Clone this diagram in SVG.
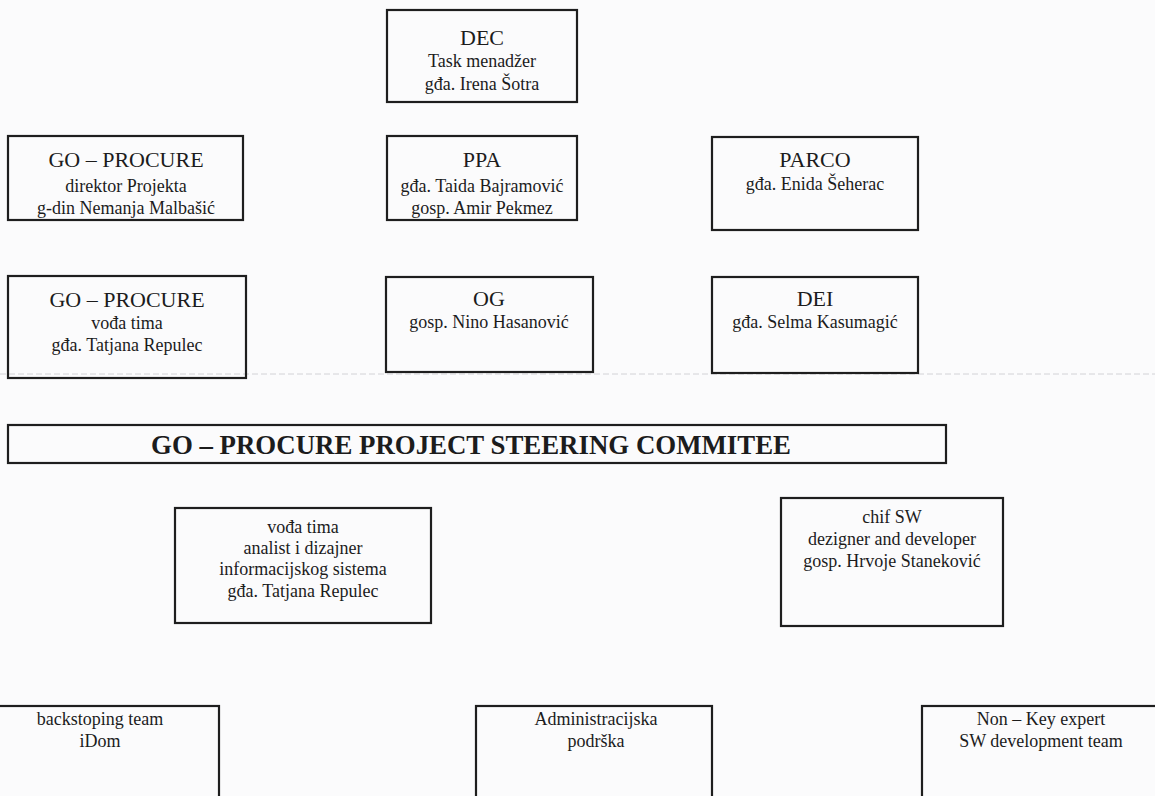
<svg xmlns="http://www.w3.org/2000/svg" width="1155" height="796" viewBox="0 0 1155 796">
<style>
.box{fill:none;stroke:#1e1e1e;stroke-width:2.2}
text{font-family:"Liberation Serif","Times New Roman",serif;fill:#1c1c1c;text-anchor:middle}
.h{font-size:22px}
.s{font-size:18px}
.t{font-size:27px;font-weight:bold}
</style>
<rect x="0" y="0" width="1155" height="796" fill="#fbfbfc"/>
<line x1="0" y1="374" x2="1155" y2="374" stroke="#d2d2d6" stroke-width="1" stroke-dasharray="6 3"/>
<g id="connectors"></g>
<g id="dec">
<rect class="box" x="387" y="10" width="190" height="92"/>
<text class="h" x="482" y="45">DEC</text>
<text class="s" x="482" y="67">Task menadžer</text>
<text class="s" x="482" y="90">gđa. Irena Šotra</text>
</g>
<g id="goprocure-director">
<rect class="box" x="8" y="136" width="235" height="84"/>
<text class="h" x="126" y="167">GO – PROCURE</text>
<text class="s" x="126" y="192">direktor Projekta</text>
<text class="s" x="126" y="214">g-din Nemanja Malbašić</text>
</g>
<g id="ppa">
<rect class="box" x="387" y="136" width="190" height="84"/>
<text class="h" x="482" y="167">PPA</text>
<text class="s" x="482" y="192">gđa. Taida Bajramović</text>
<text class="s" x="482" y="214">gosp. Amir Pekmez</text>
</g>
<g id="parco">
<rect class="box" x="712" y="137" width="206" height="93"/>
<text class="h" x="815" y="167">PARCO</text>
<text class="s" x="815" y="190">gđa. Enida Šeherac</text>
</g>
<g id="goprocure-leader">
<rect class="box" x="8" y="276" width="238" height="102"/>
<text class="h" x="127" y="307">GO – PROCURE</text>
<text class="s" x="127" y="329">vođa tima</text>
<text class="s" x="127" y="351">gđa. Tatjana Repulec</text>
</g>
<g id="og">
<rect class="box" x="386" y="277" width="207" height="95"/>
<text class="h" x="489" y="306">OG</text>
<text class="s" x="489" y="328">gosp. Nino Hasanović</text>
</g>
<g id="dei">
<rect class="box" x="712" y="277" width="206" height="96"/>
<text class="h" x="815" y="306">DEI</text>
<text class="s" x="815" y="328">gđa. Selma Kasumagić</text>
</g>
<g id="steering">
<rect class="box" x="8" y="425" width="938" height="38"/>
<text class="t" x="471" y="454" textLength="640" lengthAdjust="spacingAndGlyphs">GO – PROCURE PROJECT STEERING COMMITEE</text>
</g>
<g id="team-leader">
<rect class="box" x="175" y="508" width="256" height="115"/>
<text class="s" x="303" y="533">vođa tima</text>
<text class="s" x="303" y="554">analist i dizajner</text>
<text class="s" x="303" y="575">informacijskog sistema</text>
<text class="s" x="303" y="597">gđa. Tatjana Repulec</text>
</g>
<g id="chief-sw">
<rect class="box" x="781" y="498" width="222" height="128"/>
<text class="s" x="892" y="523">chif SW</text>
<text class="s" x="892" y="545">dezigner and developer</text>
<text class="s" x="892" y="567">gosp. Hrvoje Staneković</text>
</g>
<g id="backstoping">
<rect class="box" x="-19" y="706" width="238" height="100"/>
<text class="s" x="100" y="725">backstoping team</text>
<text class="s" x="100" y="747">iDom</text>
</g>
<g id="admin">
<rect class="box" x="476" y="706" width="236" height="100"/>
<text class="s" x="596" y="725">Administracijska</text>
<text class="s" x="596" y="747">podrška</text>
</g>
<g id="non-key">
<rect class="box" x="922" y="706" width="240" height="100"/>
<text class="s" x="1041" y="725">Non – Key expert</text>
<text class="s" x="1041" y="747">SW development team</text>
</g>
</svg>
